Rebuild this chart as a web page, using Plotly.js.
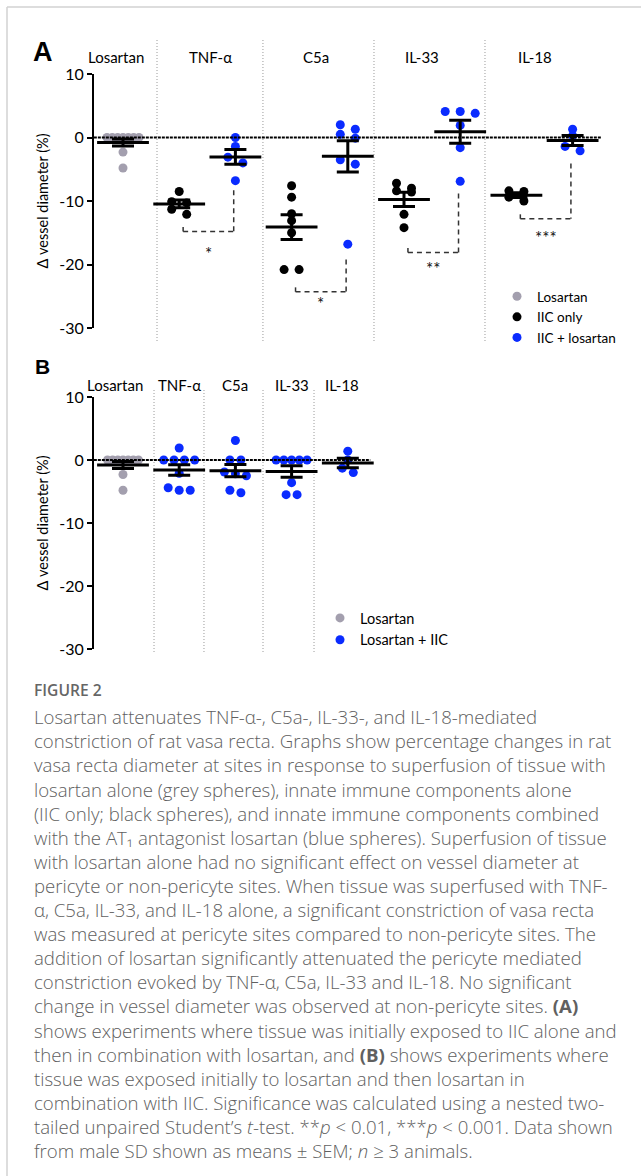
<!DOCTYPE html>
<html>
<head>
<meta charset="utf-8">
<script src="https://cdn.plot.ly/plotly-3.0.1.min.js"></script>
<style>
  html, body { margin: 0; padding: 0; background: #fff; }
  #chart { width: 641px; height: 1176px; }
</style>
</head>
<body>
<div id="chart"></div>
<script>
// ---------------- DATA ----------------
const categoriesA = ["Losartan", "TNF-α", "C5a", "IL-33", "IL-18"];
const categoriesB = ["Losartan", "TNF-α", "C5a", "IL-33", "IL-18"];

// Losartan alone (grey spheres) – same control shown in both panels
const losartanAlone = [0, 0, 0, 0, 0, 0, 0, -2.3, -4.8];

// Panel A: IIC only (black) and IIC + losartan (blue)
const tnfIICOnly   = [-8.5, -10.1, -10.3, -11.3, -12.1];
const tnfIICLos    = [0, -1.4, -3.1, -4.0, -6.8];
const c5aIICOnly   = [-7.6, -9.4, -12.0, -13.1, -15.0, -20.8, -20.8];
const c5aIICLos    = [2.0, 1.3, 0.5, -0.1, -3.5, -4.2, -16.8];
const il33IICOnly  = [-7.2, -8.0, -8.4, -8.6, -12.1, -14.2];
const il33IICLos   = [4.1, 4.1, 3.8, 1.9, -1.6, -6.9];
const il18IICOnly  = [-8.4, -8.5, -9.4, -10.0];
const il18IICLos   = [1.3, 0.3, -1.4, -2.1];

// Panel B: Losartan + IIC (blue)
const tnfLosIIC  = [1.9, 0, 0, 0, 0, -2.1, -4.4, -4.8, -4.8];
const c5aLosIIC  = [3.1, 0, 0, -1.9, -2.2, -2.5, -4.8, -5.2];
const il33LosIIC = [0, 0, 0, 0, 0, -3.6, -5.5, -5.5];
const il18LosIIC = [1.4, 0, -1.3, -2.0];

// significance (panel A, IIC only vs IIC + losartan)
const sigLabels    = ["*", "*", "**", "***"];
const sigBracketY  = [-14.8, -24.3, -18.1, -12.8];
const sigRightTopY = [-8.3, -19.2, -8.8, -4.1];
const sigTextY     = [-18.2, -26.1, -20.7, -15.8];

const yTicks = [-30, -20, -10, 0, 10];
const yTickText = ["-30", "-20", "-10", "0", "10"];
const yTitle = "Δ vessel diameter (%)";

// ---------------- HELPERS ----------------
const W = 641, H = 1176;
const PXU = 56.2;                 // pixels per x unit
const py = p => 1 - p / H;
const GREY = "#a39fae", BLACK = "#000000", BLUE = "#0a2bff";
const FONT = "Lato, 'Open Sans', sans-serif";

function mean(a) { return a.reduce((s, v) => s + v, 0) / a.length; }
function sem(a) {
  const m = mean(a);
  const sd = Math.sqrt(a.reduce((s, v) => s + (v - m) * (v - m), 0) / (a.length - 1));
  return sd / Math.sqrt(a.length);
}
// Prism-like scatter layout: points with similar values share a row
function swarm(vals, center, stepPx, maxWPx, tol) {
  const idx = vals.map((v, i) => i).sort((a, b) => vals[b] - vals[a]);
  const rows = []; let cur = null;
  idx.forEach(i => {
    if (cur && cur.start - vals[i] <= tol) cur.items.push(i);
    else { cur = { start: vals[i], items: [i] }; rows.push(cur); }
  });
  const xs = new Array(vals.length);
  rows.forEach(r => {
    const n = r.items.length;
    const step = n > 1 ? Math.min(stepPx, maxWPx / (n - 1)) : 0;
    r.items.forEach((i, k) => { xs[i] = center + (k - (n - 1) / 2) * step / PXU; });
  });
  return xs;
}

// groups: [values, position, series]
const groupsA = [
  [losartanAlone, 0, "grey"],
  [tnfIICOnly, 1, "black"], [tnfIICLos, 2, "blue"],
  [c5aIICOnly, 3, "black"], [c5aIICLos, 4, "blue"],
  [il33IICOnly, 5, "black"], [il33IICLos, 6, "blue"],
  [il18IICOnly, 7, "black"], [il18IICLos, 8, "blue"]
];
const groupsB = [
  [losartanAlone, 0, "grey"],
  [tnfLosIIC, 1, "blue"], [c5aLosIIC, 2, "blue"],
  [il33LosIIC, 3, "blue"], [il18LosIIC, 4, "blue"]
];

function seriesTrace(groups, series, name, color, xa, ya, legend, step, maxW, tol) {
  const x = [], y = [];
  groups.filter(g => g[2] === series).forEach(g => {
    const xs = swarm(g[0], g[1], step, maxW, tol);
    g[0].forEach((v, i) => { x.push(xs[i]); y.push(v); });
  });
  return {
    type: "scatter", mode: "markers", x, y, name, xaxis: xa, yaxis: ya,
    legend, marker: { color, size: 9, line: { width: 0 } }, hoverinfo: "y"
  };
}
function summaryTrace(groups, xa, ya) {
  return {
    type: "scatter", mode: "markers", xaxis: xa, yaxis: ya, showlegend: false,
    x: groups.map(g => g[1]), y: groups.map(g => mean(g[0])),
    marker: { symbol: "line-ew", size: 37, color: BLACK, line: { width: 3, color: BLACK } },
    error_y: { type: "data", array: groups.map(g => sem(g[0])), visible: true,
               color: BLACK, thickness: 3, width: 11 },
    hoverinfo: "skip"
  };
}

const traces = [
  seriesTrace(groupsA, "grey", "Losartan", GREY, "x", "y", "legend", 15, 32, 0.9),
  seriesTrace(groupsA, "black", "IIC only", BLACK, "x", "y", "legend", 15, 32, 0.9),
  seriesTrace(groupsA, "blue", "IIC + losartan", BLUE, "x", "y", "legend", 15, 32, 0.9),
  summaryTrace(groupsA, "x", "y"),
  seriesTrace(groupsB, "grey", "Losartan", GREY, "x2", "y2", "legend2", 11, 31, 0.9),
  seriesTrace(groupsB, "blue", "Losartan + IIC", BLUE, "x2", "y2", "legend2", 11, 31, 0.9),
  summaryTrace(groupsB, "x2", "y2")
];

// ---------------- SHAPES ----------------
const shapes = [];
// card border
shapes.push({ type: "line", xref: "paper", yref: "paper", x0: 7 / W, x1: 7 / W, y0: py(7), y1: 0,
  line: { color: "#d2d2d2", width: 1.5 } });
shapes.push({ type: "line", xref: "paper", yref: "paper", x0: 7 / W, x1: 1, y0: py(7), y1: py(7),
  line: { color: "#d2d2d2", width: 1.5 } });
// dotted category separators
const sepA = [0.605, 2.49, 4.466, 6.441];
const sepB = [0.552, 1.441, 2.491, 3.399];
sepA.forEach(s => shapes.push({ type: "line", xref: "x", yref: "paper", x0: s, x1: s, y0: py(40), y1: py(342),
  layer: "below", line: { color: "#9a9a9a", width: 1, dash: "1px,2px" } }));
sepB.forEach(s => shapes.push({ type: "line", xref: "x2", yref: "paper", x0: s, x1: s, y0: py(390), y1: py(652),
  layer: "below", line: { color: "#9a9a9a", width: 1, dash: "1px,2px" } }));
// zero lines
shapes.push({ type: "line", xref: "x", yref: "y", x0: -0.59, x1: 8.52, y0: 0, y1: 0,
  line: { color: "#000", width: 2, dash: "3px,1px" } });
shapes.push({ type: "line", xref: "x2", yref: "y2", x0: -0.59, x1: 4.4, y0: 0, y1: 0,
  line: { color: "#000", width: 2, dash: "3px,1px" } });
// significance brackets
const annotations = [];
sigLabels.forEach((lab, k) => {
  const xl = 1 + 2 * k + 0.07, xr = 2 + 2 * k - 0.03, yb = sigBracketY[k];
  const ln = { color: "#333", width: 1.5, dash: "5px,4px" };
  shapes.push({ type: "line", xref: "x", yref: "y", x0: xl, x1: xl, y0: yb + 0.7, y1: yb, line: ln });
  shapes.push({ type: "line", xref: "x", yref: "y", x0: xl, x1: xr, y0: yb, y1: yb, line: ln });
  shapes.push({ type: "line", xref: "x", yref: "y", x0: xr, x1: xr, y0: sigRightTopY[k], y1: yb, line: ln });
  annotations.push({ xref: "x", yref: "y", x: (xl + xr) / 2, y: sigTextY[k], text: lab, showarrow: false,
    xanchor: "center", yanchor: "middle", font: { family: FONT, size: 17, color: "#111" } });
});

// ---------------- ANNOTATIONS ----------------
const labelXA = [-0.125, 1.55, 3.43, 5.32, 7.33];
const labelXB = [-0.14, 1.0, 2.0, 3.0, 3.9];
categoriesA.forEach((c, i) => annotations.push({ xref: "x", yref: "paper", x: labelXA[i], y: py(57),
  xanchor: "center", yanchor: "middle",
  text: c, showarrow: false, font: { family: FONT, size: 15, color: "#000" } }));
categoriesB.forEach((c, i) => annotations.push({ xref: "x2", yref: "paper", x: labelXB[i], y: py(385),
  xanchor: "center", yanchor: "middle",
  text: c, showarrow: false, font: { family: FONT, size: 15, color: "#000" } }));
annotations.push({ xref: "paper", yref: "paper", x: 43 / W, y: py(52), text: "<b>A</b>", showarrow: false,
  xanchor: "center", yanchor: "middle",
  font: { family: "Liberation Sans, Arial, sans-serif", size: 27, color: "#000" } });
annotations.push({ xref: "paper", yref: "paper", x: 42 / W, y: py(366), text: "<b>B</b>", showarrow: false,
  xanchor: "center", yanchor: "middle",
  font: { family: "Liberation Sans, Arial, sans-serif", size: 21, color: "#000" } });

// caption
const captionTitle = "FIGURE 2";
const captionLines = [
  "Losartan attenuates TNF-α-, C5a-, IL-33-, and IL-18-mediated",
  "constriction of rat vasa recta. Graphs show percentage changes in rat",
  "vasa recta diameter at sites in response to superfusion of tissue with",
  "losartan alone (grey spheres), innate immune components alone",
  "(IIC only; black spheres), and innate immune components combined",
  "with the AT₁ antagonist losartan (blue spheres). Superfusion of tissue",
  "with losartan alone had no significant effect on vessel diameter at",
  "pericyte or non-pericyte sites. When tissue was superfused with TNF-",
  "α, C5a, IL-33, and IL-18 alone, a significant constriction of vasa recta",
  "was measured at pericyte sites compared to non-pericyte sites. The",
  "addition of losartan significantly attenuated the pericyte mediated",
  "constriction evoked by TNF-α, C5a, IL-33 and IL-18. No significant",
  "change in vessel diameter was observed at non-pericyte sites. <b>(A)</b>",
  "shows experiments where tissue was initially exposed to IIC alone and",
  "then in combination with losartan, and <b>(B)</b> shows experiments where",
  "tissue was exposed initially to losartan and then losartan in",
  "combination with IIC. Significance was calculated using a nested two-",
  "tailed unpaired Student’s <i>t</i>-test. **<i>p</i> &lt; 0.01, ***<i>p</i> &lt; 0.001. Data shown",
  "from male SD shown as means ± SEM; <i>n</i> ≥ 3 animals."
];
const CAP_FONT = "'Open Sans', 'Noto Sans', sans-serif";
annotations.push({ xref: "paper", yref: "paper", x: 32 / W, y: py(690), xanchor: "left", yanchor: "middle",
  text: captionTitle, showarrow: false, font: { family: CAP_FONT, size: 15.6, color: "#666", weight: 600 } });
captionLines.forEach((t, k) => annotations.push({ xref: "paper", yref: "paper", x: 32 / W,
  y: py(716.7 + 24.1 * k), xanchor: "left", yanchor: "middle", text: t, showarrow: false,
  font: { family: CAP_FONT, size: 18.6, color: "#606060", weight: 300 } }));

// ---------------- LAYOUT ----------------
function yAxis(domain, xa) {
  return {
    domain, range: [-30, 10], anchor: xa, showline: true, linewidth: 2, linecolor: "#000",
    ticks: "outside", ticklen: 5, tickwidth: 2, tickcolor: "#000",
    tickmode: "array", tickvals: yTicks, ticktext: yTickText,
    showgrid: false, zeroline: false, fixedrange: true,
    tickfont: { family: FONT, size: 16, color: "#000" },
    title: { text: yTitle, font: { family: FONT, size: 14.5, color: "#000" }, standoff: 7 }
  };
}
const xAxis = (ya) => ({ domain: [94 / W, 1], range: [-0.516, 9.217], anchor: ya, visible: false, fixedrange: true });

const layout = {
  width: W, height: H, margin: { l: 0, r: 0, t: 0, b: 0 },
  paper_bgcolor: "#fff", plot_bgcolor: "rgba(0,0,0,0)", showlegend: true,
  xaxis: xAxis("y"), yaxis: yAxis([py(328), py(74)], "x"),
  xaxis2: xAxis("y2"), yaxis2: yAxis([py(649), py(397)], "x2"),
  legend: { x: 497 / W, y: py(281), xanchor: "left", yanchor: "top", bgcolor: "rgba(0,0,0,0)",
    font: { family: FONT, size: 13.5, color: "#000" }, tracegroupgap: 0 },
  legend2: { x: 320 / W, y: py(602), xanchor: "left", yanchor: "top", bgcolor: "rgba(0,0,0,0)",
    font: { family: FONT, size: 14.5, color: "#000" }, tracegroupgap: 0 },
  shapes, annotations
};

Plotly.newPlot("chart", traces, layout, { staticPlot: true, displayModeBar: false });
</script>
</body>
</html>
